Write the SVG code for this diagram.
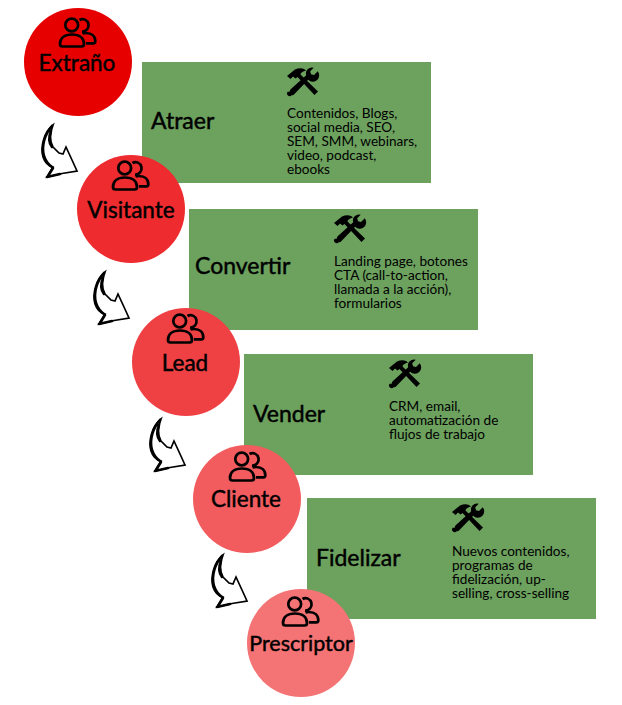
<svg xmlns="http://www.w3.org/2000/svg" xmlns:xlink="http://www.w3.org/1999/xlink" width="622" height="705" viewBox="0 0 622 705">
  <style>
    text { font-family: Lato, "Open Sans", "Liberation Sans", sans-serif; fill: #000; }
    .stage { font-size: 22.500px; text-anchor: middle; stroke: #000; stroke-width: .45; }
    .step { font-size: 23px; stroke: #000; stroke-width: .45; }
    .desc { font-size: 13.600px; }
    .box { fill: #6ca15e; }
    .sketch { fill: #fff; stroke: #000; stroke-width: 1.700; stroke-linejoin: miter; }
    .ink { fill: none; stroke: #000; stroke-width: 2.600; stroke-linecap: round; }
  </style>
  <defs>
    <g id="people" fill="none" stroke="#000" stroke-width="2.700" stroke-linejoin="round">
      <circle cx="-6.300" cy="-8" r="6.400"/>
      <path d="M1.500 -13 a6 6.200 0 1 1 2.500 11.500"/>
      <path d="M-15.500 13.500 h19 q2.500 0 2.500 -2.500 c0 -6 -4.500 -9.500 -12 -9.500 c-7.500 0 -12 3.500 -12 9.500 q0 2.500 2.500 2.500 z"/>
      <path d="M8 10.300 h7.500 q1.800 0 1.800 -2 c0 -5.300 -3.500 -8.300 -9.300 -8.300 q-2 0 -3.500 .5"/>
    </g>
    <g id="tools" fill="#000">
      <path d="M-15 -7 l8 -6.500 q5 -2 9 -.5 l2 1.500 q-3 .5 -5 2.500 l-.5 1.500 l17.500 17 l-3.500 3.500 l-17 -18 l-2 1.500 l-2.500 -2 l-2.500 2.500 z"/>
      <path d="M15.500 -11.500 l-3.500 3.500 l-3 -.8 l-.8 -3 l3.500 -3.500 a6 6 0 0 0 -7.500 7.500 l-15 13.500 q-1.500 1 -1.500 3 l-2 0 a1 1 0 0 0 4 3.500 q1.500 .5 2.500 -1 l14 -14.500 a6 6 0 0 0 9.300 -8.700 z"/>
    </g>
    <g id="curl">
      <path class="sketch" d="M53 125 C44 132 40 147 43 157 C45 163 48 166 53 167 L47 177 L62 173.500 L77 171 L72 160 L66 147 L63 154 L59 153 L53 147 C49 140 50 133 53 125 Z"/>
      <path class="ink" d="M52 126 C45 134 41 146 44 156 C46 162 49 165 52 167 M48 176 L53 168 M51 131 C48 138 49 143 52 147 M47 177 L60 174"/>
    </g>
  </defs>

  <g id="connectors">
    <use xlink:href="#curl" href="#curl"/>
    <use xlink:href="#curl" href="#curl" x="52" y="147"/>
    <use xlink:href="#curl" href="#curl" x="108" y="294"/>
    <use xlink:href="#curl" href="#curl" x="170" y="430"/>
  </g>

  <g id="atraer">
    <rect class="box" x="142" y="62" width="289" height="121"/>
    <text class="step" x="151" y="129">Atraer</text>
    <use xlink:href="#tools" href="#tools" x="302" y="83"/>
    <text class="desc" x="287" y="118">Contenidos, Blogs,<tspan x="287" dy="14">social media, SEO,</tspan><tspan x="287" dy="14">SEM, SMM, webinars,</tspan><tspan x="287" dy="14">video, podcast,</tspan><tspan x="287" dy="14">ebooks</tspan></text>
  </g>
  <g id="convertir">
    <rect class="box" x="189" y="209" width="289" height="121"/>
    <text class="step" x="195" y="274">Convertir</text>
    <use xlink:href="#tools" href="#tools" x="349" y="230"/>
    <text class="desc" x="334" y="266">Landing page, botones<tspan x="334" dy="14">CTA (call-to-action,</tspan><tspan x="334" dy="14">llamada a la acción),</tspan><tspan x="334" dy="14">formularios</tspan></text>
  </g>
  <g id="vender">
    <rect class="box" x="244" y="354" width="289" height="121"/>
    <text class="step" x="253" y="422">Vender</text>
    <use xlink:href="#tools" href="#tools" x="404" y="375"/>
    <text class="desc" x="389" y="411">CRM, email,<tspan x="389" dy="14">automatización de</tspan><tspan x="389" dy="14">flujos de trabajo</tspan></text>
  </g>
  <g id="fidelizar">
    <rect class="box" x="307" y="498" width="289" height="121"/>
    <text class="step" x="316" y="566">Fidelizar</text>
    <use xlink:href="#tools" href="#tools" x="467" y="519"/>
    <text class="desc" x="452" y="556">Nuevos contenidos,<tspan x="452" dy="14">programas de</tspan><tspan x="452" dy="14">fidelización, up-</tspan><tspan x="452" dy="14">selling, cross-selling</tspan></text>
  </g>

  <g id="extrano">
    <circle cx="78" cy="62" r="54" fill="#e60000"/>
    <use xlink:href="#people" href="#people" x="78" y="33"/>
    <text class="stage" x="77" y="70.500">Extraño</text>
  </g>
  <g id="visitante">
    <circle cx="131" cy="209" r="54" fill="#ee2b2e"/>
    <use xlink:href="#people" href="#people" x="131" y="176"/>
    <text class="stage" x="131" y="217.500">Visitante</text>
  </g>
  <g id="lead">
    <circle cx="186" cy="362" r="54" fill="#ef4144"/>
    <use xlink:href="#people" href="#people" x="186" y="329"/>
    <text class="stage" x="185" y="371">Lead</text>
  </g>
  <g id="cliente">
    <circle cx="247" cy="499" r="54" fill="#f25c5f"/>
    <use xlink:href="#people" href="#people" x="248" y="467"/>
    <text class="stage" x="246" y="507">Cliente</text>
  </g>
  <g id="prescriptor">
    <circle cx="301" cy="643" r="54" fill="#f47375"/>
    <use xlink:href="#people" href="#people" x="301" y="612"/>
    <text class="stage" x="301" y="651" style="font-size:21.500px">Prescriptor</text>
  </g>
</svg>
